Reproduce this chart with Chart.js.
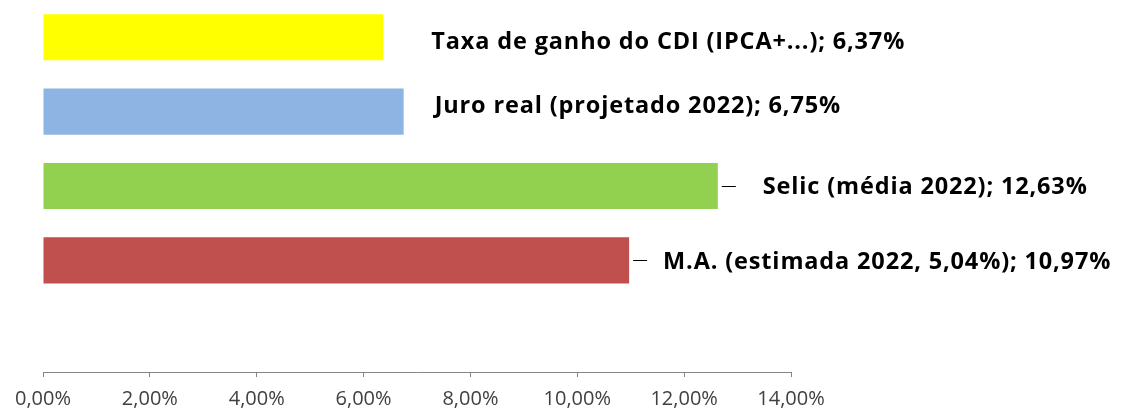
<!DOCTYPE html>
<html>
<head>
<meta charset="utf-8">
<script src="https://cdn.jsdelivr.net/npm/chart.js@4/dist/chart.umd.min.js"></script>
<style>
  html, body { margin: 0; padding: 0; background: #fff; }
  #wrap { width: 1122px; height: 410px; }
</style>
</head>
<body>
<div id="wrap"><canvas id="c" width="1122" height="410"></canvas></div>
<script>
// categorias (a última fica vazia, como no gráfico original)
const categories = [
    'Taxa de ganho do CDI (IPCA+...)',
    'Juro real (projetado 2022)',
    'Selic (média 2022)',
    'M.A. (estimada 2022, 5,04%)',
    ''
];
const values = [6.37, 6.75, 12.63, 10.97, null];
const barColors = ['#FFFF00', '#8EB4E3', '#92D050', '#C0504D', '#ffffff'];
const tickValues = [0, 2, 4, 6, 8, 10, 12, 14];

const fmt = v => v.toFixed(2).replace('.', ',') + '%';

// rótulos de dados com linha guia (posicionados à mão como no Excel)
const labelPlugin = {
    id: 'barLabels',
    afterDatasetsDraw(chart, args, opts) {
        const ctx = chart.ctx;
        const meta = chart.getDatasetMeta(0);
        ctx.save();
        ctx.font = opts.font;
        ctx.letterSpacing = opts.spacing;
        ctx.fillStyle = '#000';
        ctx.textBaseline = 'middle';
        meta.data.forEach((bar, i) => {
            if (values[i] == null) return;
            const p = opts.pos[i];
            const tx = bar.x + p.dx;
            const ty = bar.y + p.dy;
            if (p.leader) {
                ctx.strokeStyle = '#000';
                ctx.lineWidth = 1;
                ctx.beginPath();
                ctx.moveTo(bar.x + 4, Math.round(bar.y) + 0.5);
                ctx.lineTo(bar.x + 18, Math.round(bar.y) + 0.5);
                ctx.stroke();
            }
            ctx.fillText(categories[i] + '; ' + fmt(values[i]), tx, ty);
        });
        ctx.restore();
    }
};

new Chart(document.getElementById('c'), {
    type: 'bar',
    data: {
        labels: categories,
        datasets: [{
            data: values,
            backgroundColor: barColors,
            borderWidth: 0,
            categoryPercentage: 1,
            barPercentage: 0.62
        }]
    },
    plugins: [labelPlugin],
    options: {
        indexAxis: 'y',
        responsive: false,
        animation: false,
        layout: { padding: { left: 43, right: 331, top: 0, bottom: 0 } },
        scales: {
            x: {
                min: 0,
                max: 14,
                afterBuildTicks: axis => { axis.ticks = tickValues.map(v => ({ value: v })); },
                afterFit: axis => { axis.height = 38; },
                grid: {
                    display: true,
                    drawOnChartArea: false,
                    drawTicks: true,
                    tickLength: 5,
                    color: '#868686'
                },
                border: { display: true, color: '#868686', width: 1 },
                ticks: {
                    color: '#404040',
                    font: { family: 'Open Sans', size: 20 },
                    padding: 10,
                    maxRotation: 0,
                    callback: v => fmt(v)
                }
            },
            y: {
                display: false
            }
        },
        plugins: {
            legend: { display: false },
            tooltip: { enabled: false },
            barLabels: {
                font: 'bold 23.5px "Open Sans"',
                spacing: '0.85px',
                pos: [
                    { dx: 48, dy: 5, leader: false },
                    { dx: 31, dy: -5, leader: false },
                    { dx: 45, dy: 1, leader: true },
                    { dx: 34, dy: 2, leader: true }
                ]
            }
        }
    }
});
</script>
</body>
</html>
